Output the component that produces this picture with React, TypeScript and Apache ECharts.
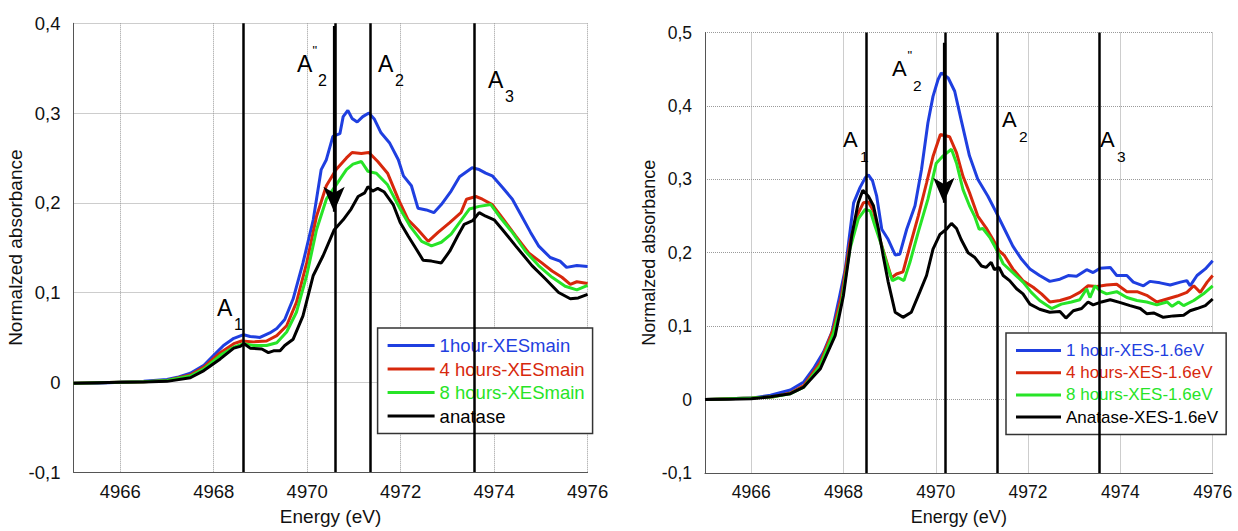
import React, { useEffect, useRef } from 'react';
import * as echarts from 'echarts';

const FONT = '"Liberation Sans", Arial, sans-serif';

const leftNames = ['1hour-XESmain', '4 hours-XESmain', '8 hours-XESmain', 'anatase'];
const rightNames = ['1 hour-XES-1.6eV', '4 hours-XES-1.6eV', '8 hours-XES-1.6eV', 'Anatase-XES-1.6eV'];
const colors = ['#1f3fe0', '#d7280c', '#27e427', '#000000'];

// Left panel (XESmain) : [energy eV, normalized absorbance]
const left1h = [[4965.0, -0.001], [4965.5, -0.001], [4966.0, 0.0], [4966.5, 0.001], [4967.0, 0.003], [4967.25, 0.006], [4967.5, 0.01], [4967.79, 0.019], [4968.0, 0.03], [4968.21, 0.041], [4968.43, 0.049], [4968.64, 0.053], [4968.78, 0.051], [4968.99, 0.05], [4969.2, 0.055], [4969.35, 0.06], [4969.52, 0.07], [4969.7, 0.093], [4969.91, 0.133], [4970.13, 0.181], [4970.3, 0.237], [4970.41, 0.248], [4970.55, 0.274], [4970.7, 0.277], [4970.77, 0.296], [4970.87, 0.303], [4970.96, 0.294], [4971.07, 0.29], [4971.19, 0.296], [4971.32, 0.3], [4971.44, 0.293], [4971.58, 0.278], [4971.76, 0.267], [4971.95, 0.248], [4972.06, 0.23], [4972.23, 0.219], [4972.37, 0.194], [4972.55, 0.192], [4972.71, 0.189], [4972.87, 0.198], [4973.08, 0.213], [4973.26, 0.229], [4973.53, 0.239], [4973.68, 0.237], [4973.82, 0.233], [4973.96, 0.23], [4974.18, 0.217], [4974.39, 0.204], [4974.57, 0.187], [4974.78, 0.167], [4974.95, 0.152], [4975.2, 0.139], [4975.41, 0.135], [4975.55, 0.128], [4975.77, 0.13], [4976.0, 0.129]];
const left4h = [[4965, -0.001], [4966, 0], [4966.5, 0.0005], [4967, 0.002], [4967.5, 0.008], [4967.79, 0.017], [4968.14, 0.033], [4968.43, 0.043], [4968.6, 0.046], [4968.85, 0.045], [4969.13, 0.046], [4969.35, 0.052], [4969.56, 0.063], [4969.77, 0.089], [4969.99, 0.133], [4970.2, 0.185], [4970.41, 0.219], [4970.62, 0.237], [4970.84, 0.25], [4970.96, 0.256], [4971.16, 0.255], [4971.32, 0.256], [4971.51, 0.246], [4971.72, 0.233], [4971.95, 0.204], [4972.16, 0.181], [4972.37, 0.17], [4972.59, 0.157], [4972.8, 0.167], [4973.05, 0.178], [4973.29, 0.189], [4973.41, 0.204], [4973.61, 0.207], [4973.75, 0.204], [4973.96, 0.198], [4974.18, 0.183], [4974.46, 0.163], [4974.74, 0.144], [4975.02, 0.133], [4975.24, 0.124], [4975.45, 0.117], [4975.63, 0.109], [4975.77, 0.112], [4976, 0.11]];
const left8h = [[4965, -0.001], [4966, 0], [4966.5, 0.0005], [4967, 0.002], [4967.5, 0.007], [4967.79, 0.015], [4968.14, 0.03], [4968.43, 0.039], [4968.64, 0.043], [4968.85, 0.041], [4969.13, 0.041], [4969.35, 0.044], [4969.56, 0.056], [4969.77, 0.078], [4969.99, 0.119], [4970.2, 0.17], [4970.41, 0.204], [4970.62, 0.22], [4970.84, 0.237], [4970.98, 0.243], [4971.16, 0.246], [4971.3, 0.235], [4971.48, 0.233], [4971.72, 0.22], [4971.99, 0.193], [4972.2, 0.174], [4972.45, 0.157], [4972.66, 0.152], [4972.87, 0.156], [4973.08, 0.165], [4973.29, 0.18], [4973.47, 0.193], [4973.68, 0.196], [4973.93, 0.198], [4974.14, 0.183], [4974.39, 0.167], [4974.67, 0.146], [4974.95, 0.13], [4975.24, 0.117], [4975.52, 0.107], [4975.77, 0.103], [4976, 0.108]];
const leftAnatase = [[4965, -0.001], [4966, 0], [4966.5, 0.0003], [4967, 0.001], [4967.5, 0.005], [4967.79, 0.013], [4968.14, 0.026], [4968.43, 0.038], [4968.57, 0.04], [4968.65, 0.043], [4968.78, 0.038], [4969.03, 0.037], [4969.17, 0.033], [4969.28, 0.035], [4969.42, 0.035], [4969.52, 0.041], [4969.7, 0.048], [4969.91, 0.074], [4970.13, 0.119], [4970.34, 0.141], [4970.58, 0.17], [4970.77, 0.181], [4970.94, 0.193], [4971.09, 0.207], [4971.23, 0.211], [4971.3, 0.218], [4971.4, 0.213], [4971.51, 0.216], [4971.65, 0.212], [4971.84, 0.198], [4971.99, 0.178], [4972.16, 0.163], [4972.34, 0.148], [4972.48, 0.136], [4972.66, 0.135], [4972.87, 0.133], [4973.05, 0.146], [4973.22, 0.163], [4973.36, 0.176], [4973.54, 0.18], [4973.68, 0.189], [4973.82, 0.185], [4974.0, 0.181], [4974.18, 0.17], [4974.46, 0.152], [4974.81, 0.13], [4975.1, 0.115], [4975.38, 0.1], [4975.63, 0.093], [4975.8, 0.094], [4976, 0.098]];

// Right panel (XES-1.6eV)
const right1h = [[4965, 0], [4965.5, 0.001], [4966, 0.002], [4966.42, 0.006], [4966.85, 0.013], [4967.14, 0.024], [4967.35, 0.042], [4967.57, 0.065], [4967.75, 0.092], [4967.89, 0.133], [4968.04, 0.178], [4968.22, 0.268], [4968.36, 0.289], [4968.47, 0.302], [4968.54, 0.306], [4968.63, 0.298], [4968.72, 0.277], [4968.83, 0.232], [4968.97, 0.218], [4969.12, 0.197], [4969.22, 0.198], [4969.37, 0.232], [4969.55, 0.264], [4969.69, 0.313], [4969.83, 0.377], [4969.94, 0.413], [4970.05, 0.436], [4970.12, 0.445], [4970.27, 0.438], [4970.41, 0.42], [4970.55, 0.381], [4970.73, 0.332], [4970.91, 0.3], [4971.13, 0.277], [4971.31, 0.255], [4971.49, 0.232], [4971.67, 0.209], [4971.86, 0.191], [4972.04, 0.178], [4972.25, 0.169], [4972.47, 0.161], [4972.69, 0.164], [4972.87, 0.169], [4973.05, 0.168], [4973.27, 0.177], [4973.41, 0.173], [4973.56, 0.179], [4973.78, 0.18], [4973.92, 0.169], [4974.14, 0.169], [4974.28, 0.16], [4974.5, 0.155], [4974.64, 0.161], [4974.86, 0.159], [4975.08, 0.156], [4975.3, 0.16], [4975.44, 0.162], [4975.51, 0.155], [4975.66, 0.169], [4975.84, 0.178], [4976, 0.189]];
const right4h = [[4965, 0], [4965.5, 0.001], [4966, 0.002], [4966.5, 0.004], [4966.85, 0.009], [4967.14, 0.019], [4967.5, 0.051], [4967.78, 0.096], [4967.96, 0.142], [4968.14, 0.214], [4968.29, 0.25], [4968.43, 0.268], [4968.54, 0.269], [4968.65, 0.257], [4968.79, 0.218], [4968.92, 0.191], [4969.04, 0.166], [4969.15, 0.171], [4969.29, 0.174], [4969.44, 0.209], [4969.62, 0.25], [4969.8, 0.295], [4969.94, 0.331], [4970.1, 0.361], [4970.3, 0.358], [4970.45, 0.336], [4970.59, 0.304], [4970.73, 0.282], [4970.91, 0.25], [4971.09, 0.234], [4971.24, 0.218], [4971.37, 0.203], [4971.49, 0.196], [4971.67, 0.178], [4971.89, 0.162], [4972.11, 0.153], [4972.29, 0.144], [4972.47, 0.133], [4972.69, 0.135], [4972.91, 0.139], [4973.12, 0.146], [4973.3, 0.155], [4973.49, 0.154], [4973.7, 0.156], [4973.92, 0.157], [4974.14, 0.147], [4974.36, 0.147], [4974.57, 0.142], [4974.79, 0.133], [4975.01, 0.137], [4975.23, 0.141], [4975.44, 0.146], [4975.59, 0.155], [4975.73, 0.146], [4975.88, 0.16], [4976, 0.169]];
const right8h = [[4965, 0], [4965.5, 0.001], [4966, 0.002], [4966.5, 0.004], [4966.85, 0.008], [4967.14, 0.017], [4967.5, 0.047], [4967.78, 0.09], [4967.96, 0.133], [4968.14, 0.205], [4968.32, 0.246], [4968.47, 0.259], [4968.58, 0.257], [4968.68, 0.237], [4968.83, 0.209], [4968.95, 0.182], [4969.06, 0.162], [4969.19, 0.166], [4969.31, 0.162], [4969.44, 0.187], [4969.62, 0.228], [4969.83, 0.273], [4970.01, 0.322], [4970.16, 0.332], [4970.34, 0.341], [4970.45, 0.322], [4970.59, 0.286], [4970.73, 0.264], [4970.84, 0.25], [4970.94, 0.232], [4971.02, 0.233], [4971.17, 0.221], [4971.31, 0.205], [4971.46, 0.185], [4971.67, 0.173], [4971.89, 0.16], [4972.07, 0.146], [4972.25, 0.135], [4972.51, 0.124], [4972.72, 0.13], [4972.94, 0.133], [4973.12, 0.136], [4973.27, 0.151], [4973.34, 0.139], [4973.45, 0.155], [4973.56, 0.148], [4973.7, 0.144], [4973.92, 0.147], [4974.14, 0.139], [4974.36, 0.135], [4974.57, 0.133], [4974.79, 0.129], [4975.01, 0.133], [4975.12, 0.127], [4975.26, 0.133], [4975.37, 0.128], [4975.59, 0.135], [4975.8, 0.144], [4976, 0.155]];
const rightAnatase = [[4965, 0], [4965.5, 0.0005], [4966, 0.001], [4966.42, 0.004], [4966.85, 0.008], [4967.14, 0.017], [4967.5, 0.042], [4967.82, 0.087], [4968.0, 0.142], [4968.18, 0.223], [4968.32, 0.268], [4968.42, 0.285], [4968.54, 0.277], [4968.65, 0.264], [4968.76, 0.232], [4968.86, 0.196], [4968.97, 0.16], [4969.12, 0.119], [4969.29, 0.112], [4969.47, 0.119], [4969.65, 0.146], [4969.8, 0.169], [4969.94, 0.205], [4970.09, 0.225], [4970.23, 0.232], [4970.34, 0.24], [4970.45, 0.233], [4970.55, 0.218], [4970.7, 0.2], [4970.84, 0.194], [4970.99, 0.182], [4971.09, 0.18], [4971.2, 0.187], [4971.27, 0.177], [4971.37, 0.18], [4971.46, 0.169], [4971.6, 0.162], [4971.75, 0.151], [4971.89, 0.144], [4972.04, 0.13], [4972.25, 0.123], [4972.47, 0.119], [4972.69, 0.12], [4972.82, 0.111], [4972.98, 0.121], [4973.16, 0.124], [4973.3, 0.133], [4973.41, 0.129], [4973.59, 0.133], [4973.78, 0.136], [4974.0, 0.132], [4974.21, 0.128], [4974.43, 0.124], [4974.57, 0.117], [4974.72, 0.118], [4974.93, 0.112], [4975.15, 0.114], [4975.37, 0.115], [4975.51, 0.121], [4975.66, 0.124], [4975.84, 0.128], [4976, 0.137]];

// Vertical marker lines (eV) and arrows ([eV, start value, end value])
const leftMarkers = [4968.63, 4970.61, 4971.34, 4973.58];
const rightMarkers = [4968.49, 4970.21, 4971.33, 4973.54];
const leftArrow = [4970.575, 0.397, 0.19];
const rightArrow = [4970.175, 0.486, 0.268];

// Peak labels: anchor of the "A" in data coordinates
const leftLabels = [
  { sub: '1', prime: false, x: 4968.07, y: 0.0833 },
  { sub: '2', prime: true, x: 4969.78, y: 0.3548 },
  { sub: '2', prime: false, x: 4971.515, y: 0.3548 },
  { sub: '3', prime: false, x: 4973.868, y: 0.337 },
];
const rightLabels = [
  { sub: '1', prime: false, x: 4967.99, y: 0.354 },
  { sub: '2', prime: true, x: 4969.052, y: 0.4512 },
  { sub: '2', prime: false, x: 4971.436, y: 0.3813 },
  { sub: '3', prime: false, x: 4973.559, y: 0.354 },
];

const yTicksFmt = (v: number) => (Math.abs(v) < 1e-9 ? '0' : v.toFixed(1).replace('.', ','));
const xTicksFmt = (v: number) => String(Math.round(v));

function makeAxes(gridIndex: number, ymax: number, fs: number, nameFs: number) {
  const x = {
    type: 'value', gridIndex, min: 4965, max: 4976, splitNumber: 5,
    name: 'Energy (eV)', nameLocation: 'middle', nameGap: 35,
    nameTextStyle: { fontSize: nameFs, fontFamily: FONT, color: '#111' },
    axisLine: { show: true, onZero: false, lineStyle: { color: '#555', width: 1 } },
    axisTick: { show: false },
    axisLabel: { showMinLabel: false, formatter: xTicksFmt, fontSize: fs, fontFamily: FONT, color: '#111', margin: 10 },
    splitLine: { show: true, lineStyle: { color: '#9a9a9a', type: 'dotted', width: 1 } },
  };
  const y = {
    type: 'value', gridIndex, min: -0.1, max: ymax, interval: 0.1,
    name: 'Normalzed absorbance', nameLocation: 'middle', nameRotate: 90, nameGap: 45,
    nameTextStyle: { fontSize: nameFs, fontFamily: FONT, color: '#111' },
    axisLine: { show: true, onZero: false, lineStyle: { color: '#555', width: 1 } },
    axisTick: { show: false },
    axisLabel: { formatter: yTicksFmt, fontSize: fs, fontFamily: FONT, color: '#111', margin: 13 },
    splitLine: { show: true, lineStyle: { color: '#9a9a9a', type: 'dotted', width: 1 } },
  };
  return { x, y };
}

function lineSeries(name: string, data: number[][], color: string, idx: number) {
  return {
    type: 'line', name, data, xAxisIndex: idx, yAxisIndex: idx,
    showSymbol: false, symbol: 'none', color,
    lineStyle: { color, width: 3 }, z: 3, silent: true,
  };
}

function markerSeries(idx: number, markers: number[], arrow: number[]) {
  return {
    type: 'line', name: 'markers' + idx, data: [], xAxisIndex: idx, yAxisIndex: idx, silent: true,
    markLine: {
      silent: true, animation: false, symbol: ['none', 'none'],
      label: { show: false },
      lineStyle: { color: '#000', width: 2.5, type: 'solid' },
      emphasis: { disabled: true },
      data: [
        ...markers.map((m) => ({ xAxis: m })),
        [
          { coord: [arrow[0], arrow[1]], symbol: 'none', lineStyle: { width: 3.2, color: '#000', type: 'solid' } },
          { coord: [arrow[0], arrow[2]], symbol: 'arrow', symbolSize: [16, 25] },
        ],
      ],
    },
  };
}

function legendFor(names: string[], left: number, top: number, fs: number, gap: number, iw: number, pad: number[]) {
  return {
    orient: 'vertical', left, top, icon: 'rect', itemWidth: iw, itemHeight: 3, itemGap: gap,
    padding: pad, backgroundColor: '#fff', borderColor: '#333', borderWidth: 1.5, borderRadius: 0,
    selectedMode: false,
    textStyle: { fontSize: fs, fontFamily: FONT },
    data: names.map((n, i) => ({ name: n, textStyle: { color: colors[i] } })),
  };
}

export default function App() {
  const ref = useRef<HTMLDivElement>(null);
  useEffect(() => {
    if (!ref.current) return;
    const chart = echarts.init(ref.current, null, { renderer: 'svg' });
    const L = makeAxes(0, 0.4, 18.5, 19);
    const R = makeAxes(1, 0.5, 17.5, 18);
    const leftData = [left1h, left4h, left8h, leftAnatase];
    const rightData = [right1h, right4h, right8h, rightAnatase];
    chart.setOption({
      animation: false,
      backgroundColor: '#fff',
      grid: [
        { left: 73.5, top: 23.3, right: 1238 - 587.6, bottom: 531 - 473.3, containLabel: false },
        { left: 705, top: 32.5, right: 1238 - 1212.7, bottom: 531 - 474.5, containLabel: false },
      ],
      xAxis: [L.x, R.x],
      yAxis: [L.y, R.y],
      legend: [
        legendFor(leftNames, 377.6, 328, 18.5, 4.5, 47, [8, 8, 8, 10]),
        legendFor(rightNames, 1006, 333, 17, 5.2, 45, [9, 8, 9, 10]),
      ],
      series: [
        ...leftData.map((d, i) => lineSeries(leftNames[i], d, colors[i], 0)),
        ...rightData.map((d, i) => lineSeries(rightNames[i], d, colors[i], 1)),
        markerSeries(0, leftMarkers, leftArrow),
        markerSeries(1, rightMarkers, rightArrow),
      ],
    });

    const txt = (text: string, x: number, y: number, fs: number) => ({
      type: 'text', x, y, z: 100, silent: true,
      style: { text, fontSize: fs, fontFamily: FONT, fill: '#000', align: 'left', verticalAlign: 'middle' },
    });
    const build = (idx: number, labels: typeof leftLabels, fsA: number, fsS: number) =>
      labels.flatMap((l) => {
        const p = chart.convertToPixel({ xAxisIndex: idx, yAxisIndex: idx } as any, [l.x, l.y]) as number[];
        const els: any[] = [txt('A', p[0], p[1], fsA)];
        if (l.prime) els.push(txt('"', p[0] + 15.5, p[1] - 13, 13));
        els.push(txt(l.sub, p[0] + (l.prime ? 21 : 17), p[1] + 17, fsS));
        return els;
      });
    chart.setOption({ graphic: [...build(0, leftLabels, 23, 16), ...build(1, rightLabels, 22, 15.5)] });

    return () => chart.dispose();
  }, []);
  return <div ref={ref} style={{ position: 'absolute', left: 0, top: 0, width: 1238, height: 531 }} />;
}
